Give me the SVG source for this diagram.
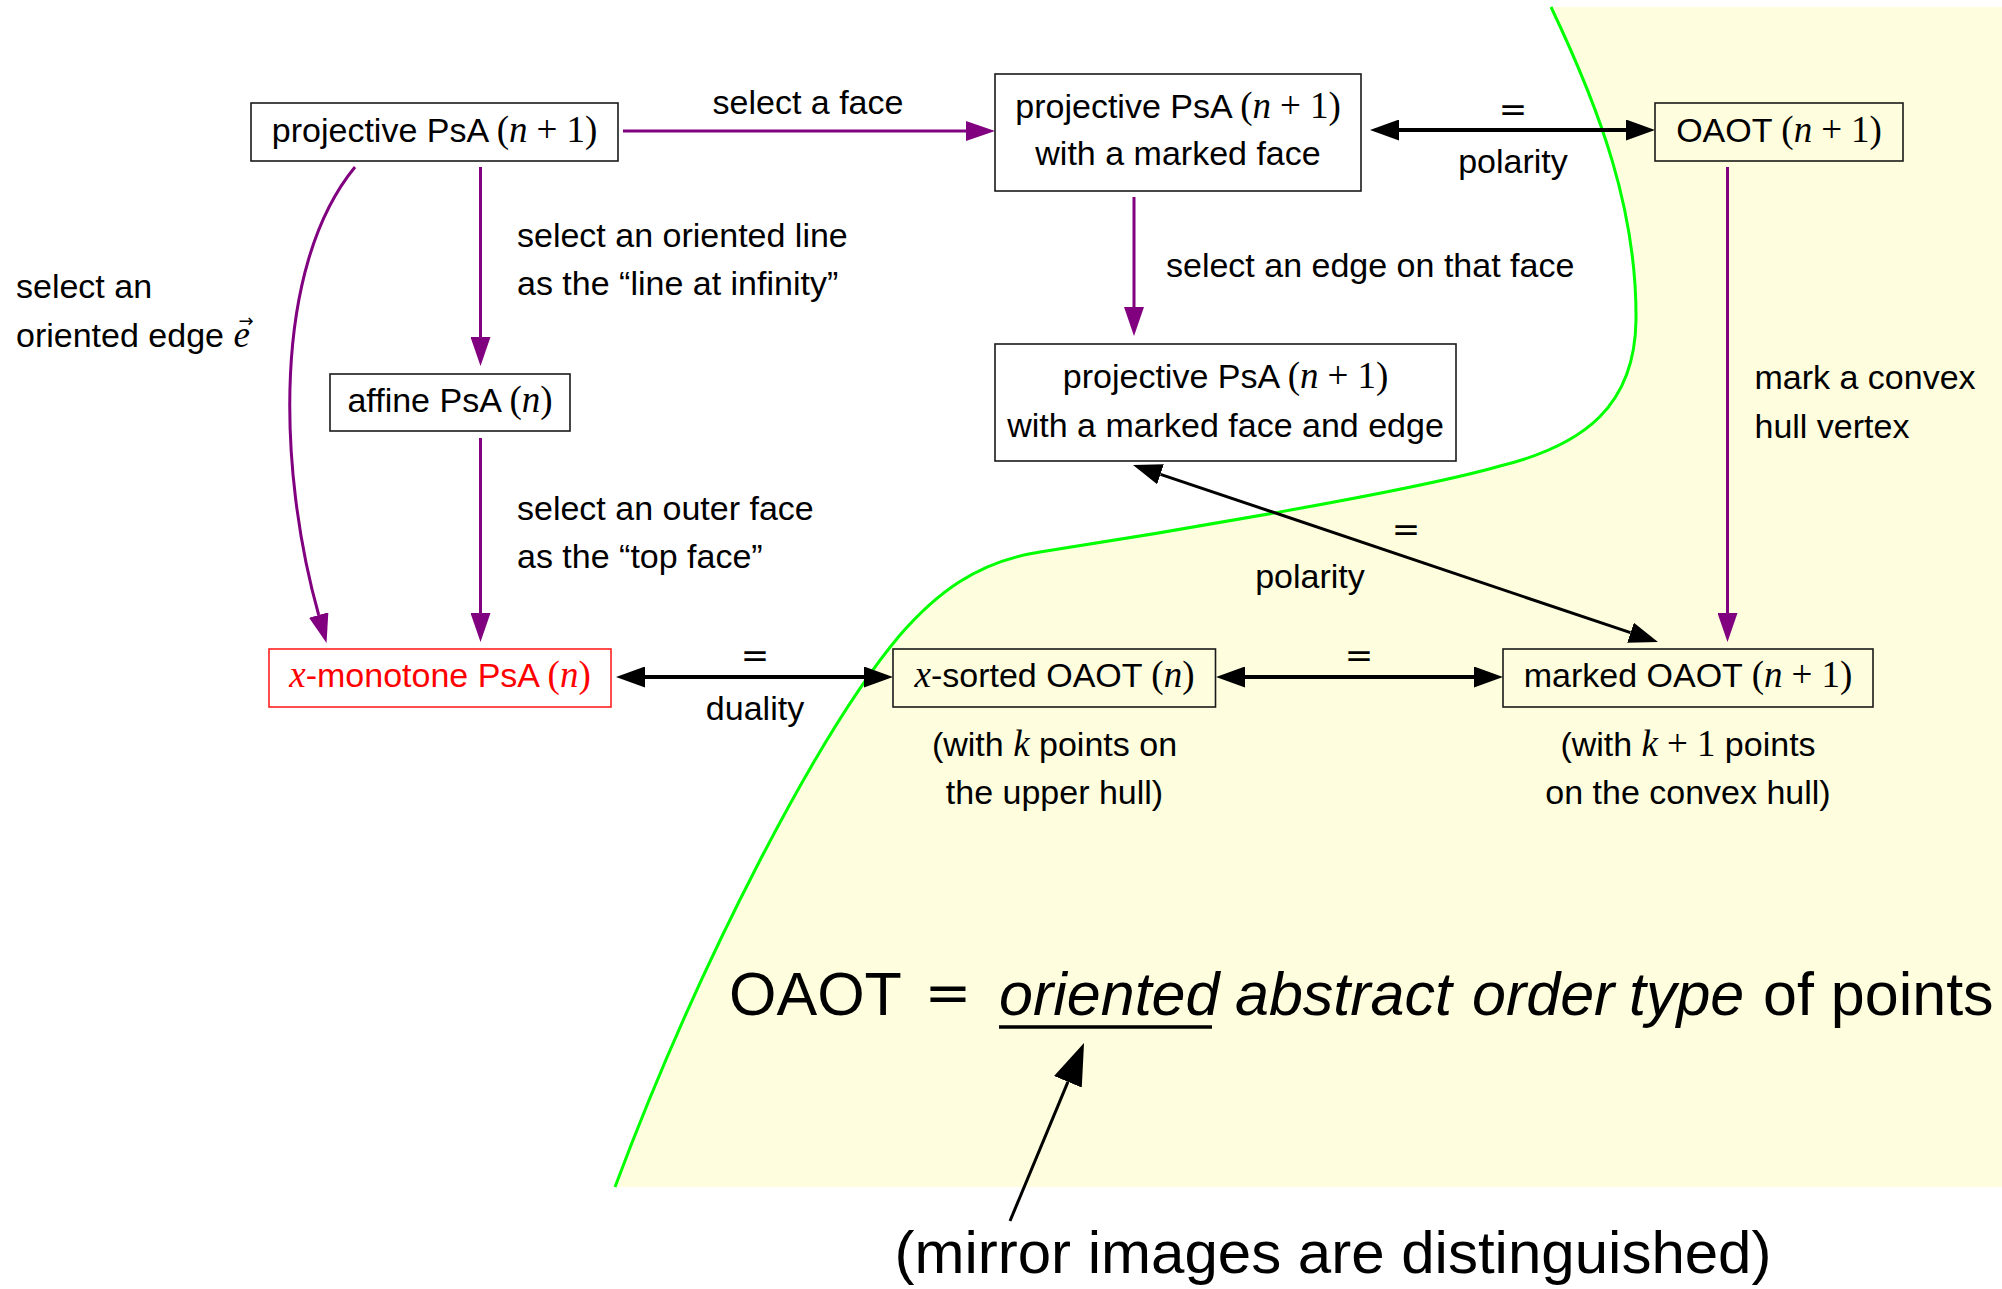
<svg xmlns="http://www.w3.org/2000/svg" width="2002" height="1289" viewBox="0 0 2002 1289">
  <style>
    .t { font-family: "Liberation Sans", Arial, sans-serif; font-size: 34px; fill: #000; }
    .m { font-family: "Liberation Serif", "Times New Roman", serif; font-style: normal; font-size: 37px; }
    .mi { font-family: "Liberation Serif", "Times New Roman", serif; font-style: italic; font-size: 37px; }
    .acc { font-family: "DejaVu Sans", sans-serif; font-style: normal; font-size: 18px; }
    .eq { font-family: "DejaVu Serif", serif; font-size: 34px; fill: #000; }
    .box { fill: none; stroke: #1a1a1a; stroke-width: 1.6; }
    .red { fill: #ff0000; }
    .pa { fill: none; stroke: #800080; stroke-width: 3; marker-end: url(#hp); }
    .ba { fill: none; stroke: #000; stroke-width: 4; marker-start: url(#hb); marker-end: url(#hb); }
  </style>
  <defs>
    <marker id="hp" markerUnits="userSpaceOnUse" markerWidth="29" markerHeight="20" viewBox="0 0 29 20" refX="0" refY="10" orient="auto-start-reverse">
      <path d="M0,0 L29,10 L0,20 Z" fill="#800080"/>
    </marker>
    <marker id="hb" markerUnits="userSpaceOnUse" markerWidth="29" markerHeight="21" viewBox="0 0 29 21" refX="0" refY="10.5" orient="auto-start-reverse">
      <path d="M0,0 L29,10.5 L0,21 Z" fill="#000"/>
    </marker>
    <marker id="hbig" markerUnits="userSpaceOnUse" markerWidth="42" markerHeight="30" viewBox="0 0 42 30" refX="0" refY="15" orient="auto">
      <path d="M0,0 L42,15 L0,30 Z" fill="#000"/>
    </marker>
  </defs>

  <!-- shaded region of order types, bounded by the green curve -->
  <g id="region">
    <path d="M1551,7 C1600,110 1637,210 1636,320 C1635,405 1585,445 1500,466 C1410,492 1150,535 1040,552 C975,562 935,595 900,635 C820,730 700,960 615,1187 L2002,1187 L2002,7 Z" fill="#fefddd"/>
    <path d="M1551,7 C1600,110 1637,210 1636,320 C1635,405 1585,445 1500,466 C1410,492 1150,535 1040,552 C975,562 935,595 900,635 C820,730 700,960 615,1187" fill="none" stroke="#00ff00" stroke-width="3"/>
  </g>

  <!-- connectors -->
  <g id="connectors">
    <path class="pa" d="M623,131 H966"/>
    <path class="pa" d="M480.5,167 V337"/>
    <path class="pa" d="M355,167 C272,268 278,470 318.7,615"/>
    <path class="pa" d="M480.5,438 V613"/>
    <path class="pa" d="M1134,197 V307"/>
    <path class="pa" d="M1727.5,167 V613"/>
    <path class="ba" d="M1399,130 H1626"/>
    <path class="ba" d="M645,677 H864"/>
    <path class="ba" d="M1245,677 H1474"/>
    <path class="ba" style="stroke-width:3" d="M1160.5,474.3 L1630.5,632.7"/>

    <text class="t" x="808" y="114" text-anchor="middle">select a face</text>
    <text class="eq" x="1513" y="121" text-anchor="middle">=</text>
    <text class="t" x="1513" y="173" text-anchor="middle">polarity</text>

    <text class="t" x="517" y="247">select an oriented line</text>
    <text class="t" x="517" y="295">as the “line at infinity”</text>

    <text class="t" x="16" y="298">select an</text>
    <text class="t" x="16" y="347">oriented edge <tspan class="mi">e</tspan><tspan class="acc" x="246" y="327" text-anchor="middle">→</tspan></text>

    <text class="t" x="1166" y="277">select an edge on that face</text>
    <text class="t" x="1754.5" y="389">mark a convex</text>
    <text class="t" x="1754.5" y="438">hull vertex</text>

    <text class="t" x="517" y="520">select an outer face</text>
    <text class="t" x="517" y="568">as the “top face”</text>

    <text class="eq" x="1406" y="541" text-anchor="middle">=</text>
    <text class="t" x="1310" y="588" text-anchor="middle">polarity</text>

    <text class="eq" x="755" y="667" text-anchor="middle">=</text>
    <text class="t" x="755" y="720" text-anchor="middle">duality</text>
    <text class="eq" x="1359" y="667" text-anchor="middle">=</text>
  </g>

  <!-- nodes -->
  <g id="proj">
    <rect class="box" x="251" y="103" width="367" height="58"/>
    <text class="t" x="434.5" y="142" text-anchor="middle">projective PsA <tspan class="m">(</tspan><tspan class="mi">n</tspan><tspan class="m" dx="9">+</tspan><tspan class="m" dx="9">1)</tspan></text>
  </g>
  <g id="proj-face">
    <rect class="box" x="995" y="74" width="366" height="117"/>
    <text class="t" x="1178" y="118" text-anchor="middle">projective PsA <tspan class="m">(</tspan><tspan class="mi">n</tspan><tspan class="m" dx="9">+</tspan><tspan class="m" dx="9">1)</tspan></text>
    <text class="t" x="1178" y="165" text-anchor="middle">with a marked face</text>
  </g>
  <g id="oaot">
    <rect class="box" x="1655" y="103" width="248" height="58"/>
    <text class="t" x="1779" y="142" text-anchor="middle">OAOT <tspan class="m">(</tspan><tspan class="mi">n</tspan><tspan class="m" dx="9">+</tspan><tspan class="m" dx="9">1)</tspan></text>
  </g>
  <g id="affine">
    <rect class="box" x="330" y="374" width="240" height="57"/>
    <text class="t" x="450" y="412" text-anchor="middle">affine PsA <tspan class="m">(</tspan><tspan class="mi">n</tspan><tspan class="m">)</tspan></text>
  </g>
  <g id="proj-face-edge">
    <rect class="box" x="995" y="344" width="461" height="117"/>
    <text class="t" x="1225.5" y="388" text-anchor="middle">projective PsA <tspan class="m">(</tspan><tspan class="mi">n</tspan><tspan class="m" dx="9">+</tspan><tspan class="m" dx="9">1)</tspan></text>
    <text class="t" x="1225.5" y="437" text-anchor="middle">with a marked face and edge</text>
  </g>
  <g id="xmono">
    <rect class="box" style="stroke:#ff2020" x="269" y="649" width="342" height="58"/>
    <text class="t red" x="440" y="687" text-anchor="middle"><tspan class="mi">x</tspan>-monotone PsA <tspan class="m">(</tspan><tspan class="mi">n</tspan><tspan class="m">)</tspan></text>
  </g>
  <g id="xsorted">
    <rect class="box" x="893" y="649" width="322.5" height="58"/>
    <text class="t" x="1054.5" y="687" text-anchor="middle"><tspan class="mi">x</tspan>-sorted OAOT <tspan class="m">(</tspan><tspan class="mi">n</tspan><tspan class="m">)</tspan></text>
    <text class="t" x="1054.5" y="756" text-anchor="middle">(with <tspan class="mi">k</tspan> points on</text>
    <text class="t" x="1054.5" y="804" text-anchor="middle">the upper hull)</text>
  </g>
  <g id="marked">
    <rect class="box" x="1503" y="649" width="370" height="58"/>
    <text class="t" x="1688" y="687" text-anchor="middle">marked OAOT <tspan class="m">(</tspan><tspan class="mi">n</tspan><tspan class="m" dx="9">+</tspan><tspan class="m" dx="9">1)</tspan></text>
    <text class="t" x="1688" y="756" text-anchor="middle">(with <tspan class="mi">k</tspan><tspan class="m" dx="9">+</tspan><tspan class="m" dx="9">1</tspan> points</text>
    <text class="t" x="1688" y="804" text-anchor="middle">on the convex hull)</text>
  </g>

  <!-- definition and note -->
  <g id="definition">
    <text class="t" style="font-size:61px" x="729" y="1015">OAOT</text>
    <text class="eq" style="font-size:56px" x="948" y="1012" text-anchor="middle">=</text>
    <text class="t" style="font-size:61px;font-style:italic" x="999" y="1015">oriented</text>
    <text class="t" style="font-size:61px;font-style:italic" x="1235" y="1015">abstract</text>
    <text class="t" style="font-size:61px;font-style:italic" x="1472" y="1015">order</text>
    <text class="t" style="font-size:61px;font-style:italic" x="1629" y="1015">type</text>
    <text class="t" style="font-size:61px" x="1763" y="1015">of points</text>
    <path d="M999,1027 H1212" stroke="#000" stroke-width="3.5"/>
  </g>
  <g id="note">
    <path d="M1010,1221 L1067.9,1081.8" stroke="#000" stroke-width="3" marker-end="url(#hbig)"/>
    <text class="t" style="font-size:60px" x="1333" y="1273" text-anchor="middle">(mirror images are distinguished)</text>
  </g>
</svg>
